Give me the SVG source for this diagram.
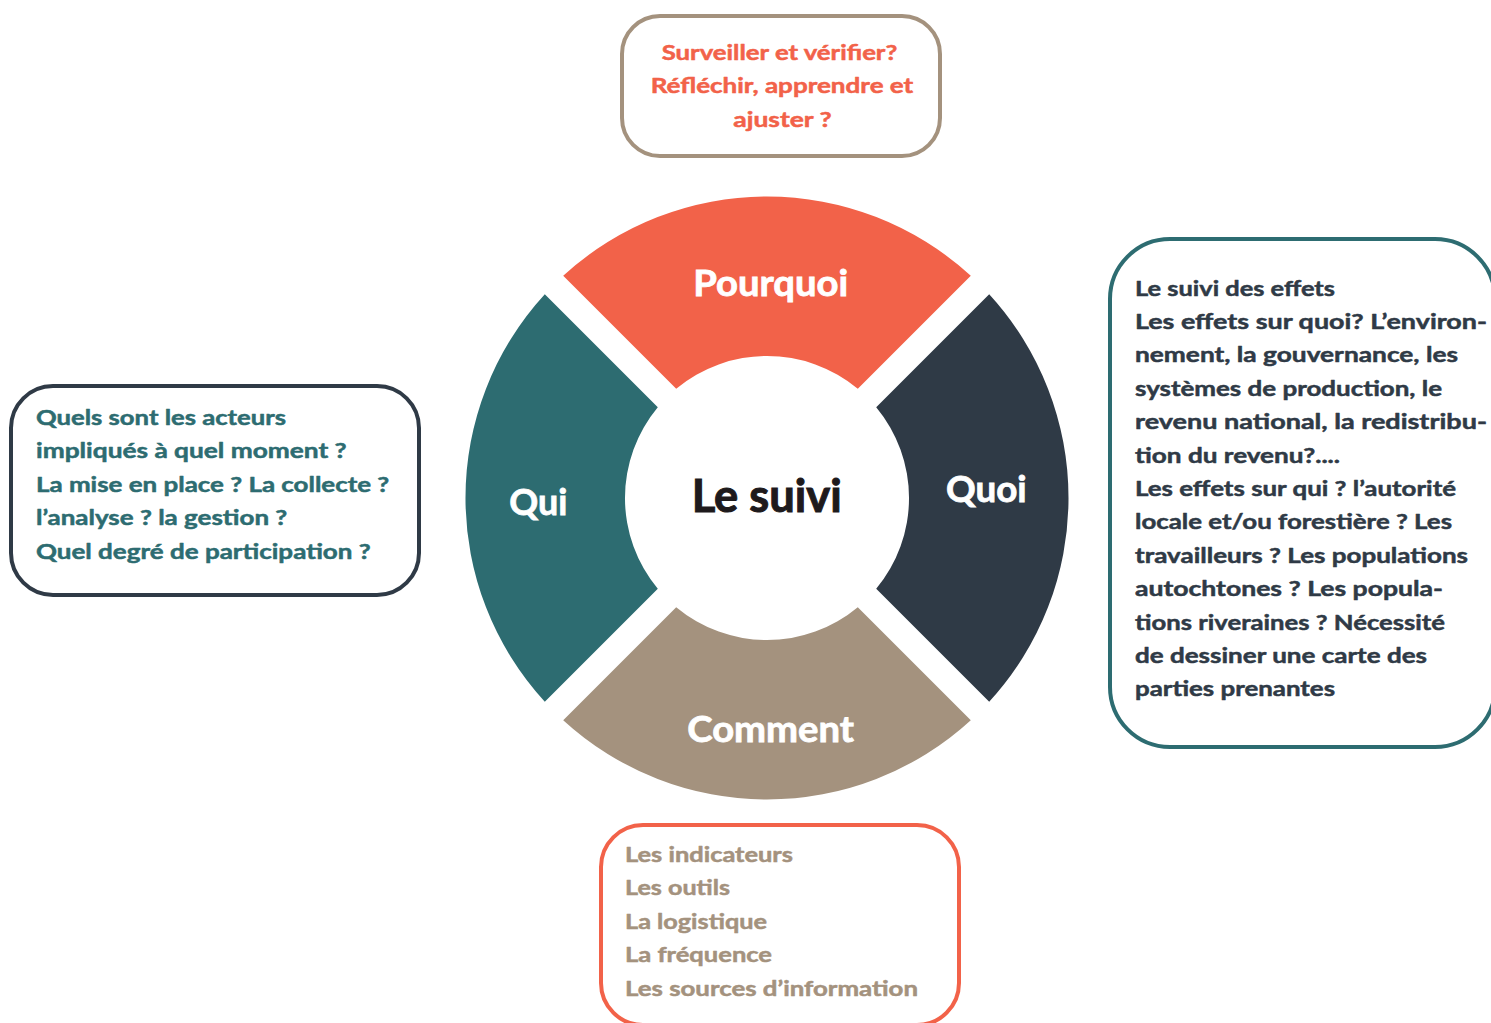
<svg xmlns="http://www.w3.org/2000/svg" width="1491" height="1023" viewBox="0 0 1491 1023">
<style>
text{font-family:Lato,"Open Sans","Liberation Sans",sans-serif;font-weight:700}
.body{font-size:21.5px;stroke-width:0.5px;stroke-linejoin:round}
.body.coral{stroke:#F26249}
.body.teal{stroke:#2D6C71}
.body.dark{stroke:#2F3A46}
.body.taupe{stroke:#A4927E}
.seg{font-size:37px;fill:#FFFFFF;stroke:#FFFFFF;stroke-width:0.8px}
.box{fill:#FFFFFF;stroke-width:4}
.coral{fill:#F26249}
.teal{fill:#2D6C71}
.dark{fill:#2F3A46}
.taupe{fill:#A4927E}
</style>
<rect width="1491" height="1023" fill="#FFFFFF"/>
<g id="connectors"/>
<g id="ring">
<g id="seg-pourquoi">
<path class="coral" d="M563.2 275.8 A301.5 301.5 0 0 1 970.8 275.8 L857.8 388.8 A142 142 0 0 0 676.2 388.8 Z"/>
<text class="seg" x="693.3" y="296" textLength="155" lengthAdjust="spacingAndGlyphs">Pourquoi</text>
</g>
<g id="seg-quoi">
<path class="dark" d="M989.2 294.2 A301.5 301.5 0 0 1 989.2 701.8 L876.2 588.8 A142 142 0 0 0 876.2 407.2 Z"/>
<text class="seg" x="946" y="502.3" textLength="80.7" lengthAdjust="spacingAndGlyphs">Quoi</text>
</g>
<g id="seg-comment">
<path class="taupe" d="M970.8 720.2 A301.5 301.5 0 0 1 563.2 720.2 L676.2 607.2 A142 142 0 0 0 857.8 607.2 Z"/>
<text class="seg" x="687.3" y="741.7" textLength="166.7" lengthAdjust="spacingAndGlyphs">Comment</text>
</g>
<g id="seg-qui">
<path class="teal" d="M544.8 701.8 A301.5 301.5 0 0 1 544.8 294.2 L657.8 407.2 A142 142 0 0 0 657.8 588.8 Z"/>
<text class="seg" x="509.3" y="515" textLength="58" lengthAdjust="spacingAndGlyphs">Qui</text>
</g>
<g id="center">
<text x="691.7" y="511.7" font-size="45" fill="#1E1A1C" stroke="#1E1A1C" stroke-width="1" textLength="150" lengthAdjust="spacingAndGlyphs">Le suivi</text>
</g>
</g>
<g id="box-pourquoi">
<rect class="box" x="622" y="16" width="318" height="140" rx="38" stroke="#A4927E"/>
<g class="body coral">
<text x="661.7" y="60" textLength="235.6" lengthAdjust="spacingAndGlyphs">Surveiller et vérifier?</text>
<text x="650.7" y="93.3" textLength="262.6" lengthAdjust="spacingAndGlyphs">Réfléchir, apprendre et</text>
<text x="733.3" y="126.6" textLength="98.4" lengthAdjust="spacingAndGlyphs">ajuster ?</text>
</g>
</g>
<g id="box-qui">
<rect class="box" x="11" y="386" width="408" height="209" rx="42" stroke="#2F3A46"/>
<g class="body teal">
<text x="36" y="424.5" textLength="250" lengthAdjust="spacingAndGlyphs">Quels sont les acteurs</text>
<text x="36" y="458" textLength="310.7" lengthAdjust="spacingAndGlyphs">impliqués à quel moment ?</text>
<text x="36" y="491.5" textLength="353.3" lengthAdjust="spacingAndGlyphs">La mise en place ? La collecte ?</text>
<text x="36" y="525" textLength="251.3" lengthAdjust="spacingAndGlyphs">l’analyse ? la gestion ?</text>
<text x="36" y="558.5" textLength="334.7" lengthAdjust="spacingAndGlyphs">Quel degré de participation ?</text>
</g>
</g>
<g id="box-quoi">
<rect class="box" x="1110" y="239" width="385" height="508" rx="60" stroke="#2D6C71"/>
<g class="body dark">
<text x="1135" y="295.5" textLength="200" lengthAdjust="spacingAndGlyphs">Le suivi des effets</text>
<text x="1135" y="328.9" textLength="352" lengthAdjust="spacingAndGlyphs">Les effets sur quoi? L’environ-</text>
<text x="1135" y="362.3" textLength="323" lengthAdjust="spacingAndGlyphs">nement, la gouvernance, les</text>
<text x="1135" y="395.7" textLength="307" lengthAdjust="spacingAndGlyphs">systèmes de production, le</text>
<text x="1135" y="429.1" textLength="352" lengthAdjust="spacingAndGlyphs">revenu national, la redistribu-</text>
<text x="1135" y="462.5" textLength="205" lengthAdjust="spacingAndGlyphs">tion du revenu?....</text>
<text x="1135" y="495.9" textLength="321" lengthAdjust="spacingAndGlyphs">Les effets sur qui ? l’autorité</text>
<text x="1135" y="529.3" textLength="317" lengthAdjust="spacingAndGlyphs">locale et/ou forestière ? Les</text>
<text x="1135" y="562.7" textLength="333" lengthAdjust="spacingAndGlyphs">travailleurs ? Les populations</text>
<text x="1135" y="596.1" textLength="308" lengthAdjust="spacingAndGlyphs">autochtones ? Les popula-</text>
<text x="1135" y="629.5" textLength="310" lengthAdjust="spacingAndGlyphs">tions riveraines ? Nécessité</text>
<text x="1135" y="662.9" textLength="292" lengthAdjust="spacingAndGlyphs">de dessiner une carte des</text>
<text x="1135" y="696.3" textLength="200" lengthAdjust="spacingAndGlyphs">parties prenantes</text>
</g>
</g>
<g id="box-comment">
<rect class="box" x="601" y="825" width="358" height="200" rx="42" stroke="#F26249"/>
<g class="body taupe">
<text x="625" y="861.7" textLength="168" lengthAdjust="spacingAndGlyphs">Les indicateurs</text>
<text x="625" y="895.2" textLength="105" lengthAdjust="spacingAndGlyphs">Les outils</text>
<text x="625" y="928.7" textLength="142" lengthAdjust="spacingAndGlyphs">La logistique</text>
<text x="625" y="962.2" textLength="147" lengthAdjust="spacingAndGlyphs">La fréquence</text>
<text x="625" y="995.7" textLength="293" lengthAdjust="spacingAndGlyphs">Les sources d’information</text>
</g>
</g>
</svg>
